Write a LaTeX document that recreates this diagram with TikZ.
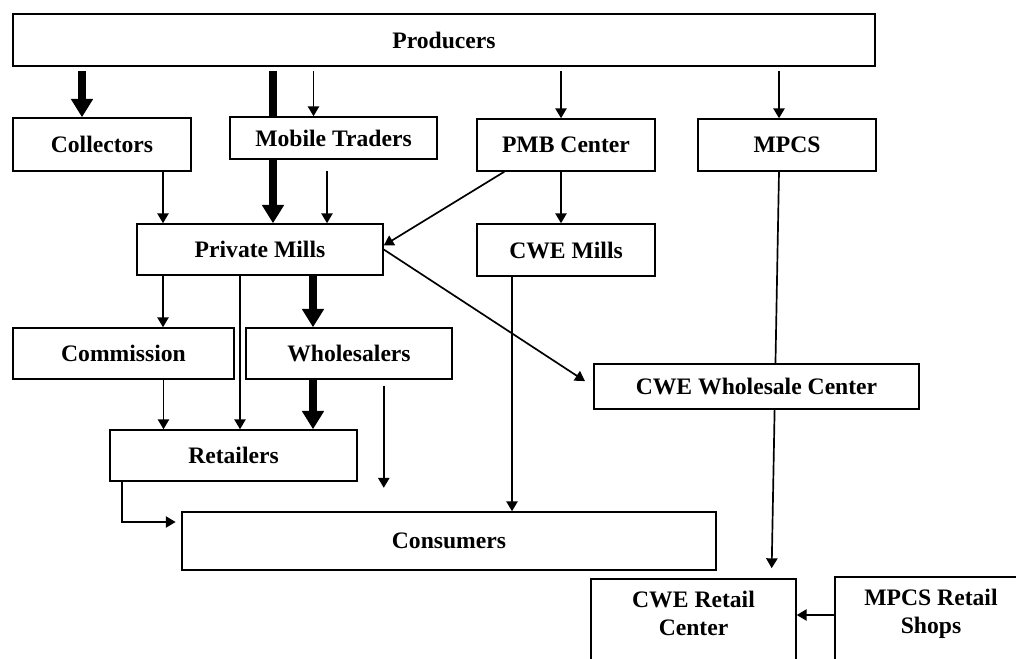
\documentclass[tikz,border=0pt]{standalone}
\usepackage{fontspec}
\setmainfont{Liberation Serif}
\usetikzlibrary{arrows.meta,backgrounds}
\begin{document}
\begin{tikzpicture}[>={Triangle[length=7pt,width=8pt]}, line width=1.2pt,
    box/.style={draw, line width=1.1pt, fill=white, inner sep=0pt, font=\bfseries\fontsize{16.8}{20}\selectfont},
    fat/.style={line width=5pt, -{Triangle[length=13pt,width=15pt]}}]
\useasboundingbox (0,0) rectangle (25.4,-16.45);
\node[box, minimum width=21.55cm, minimum height=1.3cm] (prod) at (11.1,-1) {Producers};
\node[box, minimum width=4.45cm, minimum height=1.325cm] (coll) at (2.55,-3.6125) {Collectors};
\node[box, minimum width=5.175cm, minimum height=1.05cm] (mob) at (8.3375,-3.45) {Mobile Traders};
\node[box, minimum width=4.45cm, minimum height=1.3cm] (pmb) at (14.15,-3.625) {PMB Center};
\node[box, minimum width=4.45cm, minimum height=1.3cm] (mpcs) at (19.675,-3.625) {MPCS};
\node[box, minimum width=6.15cm, minimum height=1.275cm] (pm) at (6.5,-6.2375) {Private Mills};
\node[box, minimum width=4.45cm, minimum height=1.3cm] (cwem) at (14.15,-6.25) {CWE Mills};
\node[box, minimum width=5.525cm, minimum height=1.275cm] (comm) at (3.0875,-8.8375) {Commission};
\node[box, minimum width=5.15cm, minimum height=1.275cm] (whole) at (8.725,-8.8375) {Wholesalers};
\node[box, minimum width=8.125cm, minimum height=1.125cm] (cwews) at (18.9125,-9.6625) {CWE Wholesale Center};
\node[box, minimum width=6.175cm, minimum height=1.275cm] (ret) at (5.8375,-11.3875) {Retailers};
\node[box, minimum width=13.35cm, minimum height=1.45cm] (cons) at (11.225,-13.525) {Consumers};
\node[box, align=center, anchor=north, minimum width=5.125cm, inner ysep=9pt, text depth=2.5cm] (cwer) at (17.3375,-14.45) {CWE Retail\\Center};
\node[box, align=center, anchor=north, minimum width=4.8cm, inner ysep=9pt, text depth=2.5cm] (mret) at (23.275,-14.4) {MPCS Retail\\Shops};
\begin{scope}[on background layer]
\draw[fat, shorten <=3pt] ([xshift=0.325cm]pm.north |- prod.south) -- ([xshift=0.325cm]pm.north);
\draw[->, line width=1.2pt, shorten >=7pt] ([xshift=-0.2cm]mpcs.south) -- ([xshift=1.95cm]cwer.north);
\end{scope}
\draw[fat, shorten <=3pt] ([xshift=-0.5cm]coll.north |- prod.south) -- ([xshift=-0.5cm]coll.north);
\foreach \n/\d in {mob/-0.5, pmb/-0.125, mpcs/-0.2}
    \draw[->, shorten <=3pt] ([xshift=\d cm]\n.north |- prod.south) -- ([xshift=\d cm]\n.north);
\draw[->] ([xshift=1.525cm]coll.south) -- ([xshift=1.525cm]coll.south |- pm.north);
\draw[<-] ([xshift=1.675cm]pm.north) -- ++(0,1.3);
\draw[->] ([xshift=0.7cm]pmb.south west) -- ([yshift=0.1cm]pm.east);
\draw[->] ([xshift=-0.125cm]pmb.south) -- ([xshift=-0.125cm]cwem.north);
\draw[->, shorten >=7pt] (pm.east) -- (cwews.west);
\draw[->] ([xshift=-1.35cm]cwem.south) -- ([xshift=-1.35cm]cwem.south |- cons.north);
\draw[->] ([xshift=-2.425cm]pm.south) -- ([xshift=-2.425cm]pm.south |- comm.north);
\draw[->] ([xshift=-0.5cm]pm.south) -- ([xshift=-0.5cm]pm.south |- ret.north);
\draw[fat] ([xshift=1.325cm]pm.south) -- ([xshift=1.325cm]pm.south |- whole.north);
\draw[->] ([xshift=1cm]comm.south) -- ([xshift=1cm]comm.south |- ret.north);
\draw[fat] ([xshift=-0.9cm]whole.south) -- ([xshift=-0.9cm]whole.south |- ret.north);
\draw[->] ([xshift=-1.725cm,yshift=-0.15cm]whole.south east) -- ++(0,-2.55);
\draw[->, shorten >=4pt] ([xshift=0.325cm]ret.south west) |- ([yshift=0.475cm]cons.west);
\draw[<-] ([yshift=-0.925cm]cwer.north east) -- ([yshift=-0.925cm]cwer.north east -| mret.west);
\end{tikzpicture}
\end{document}
